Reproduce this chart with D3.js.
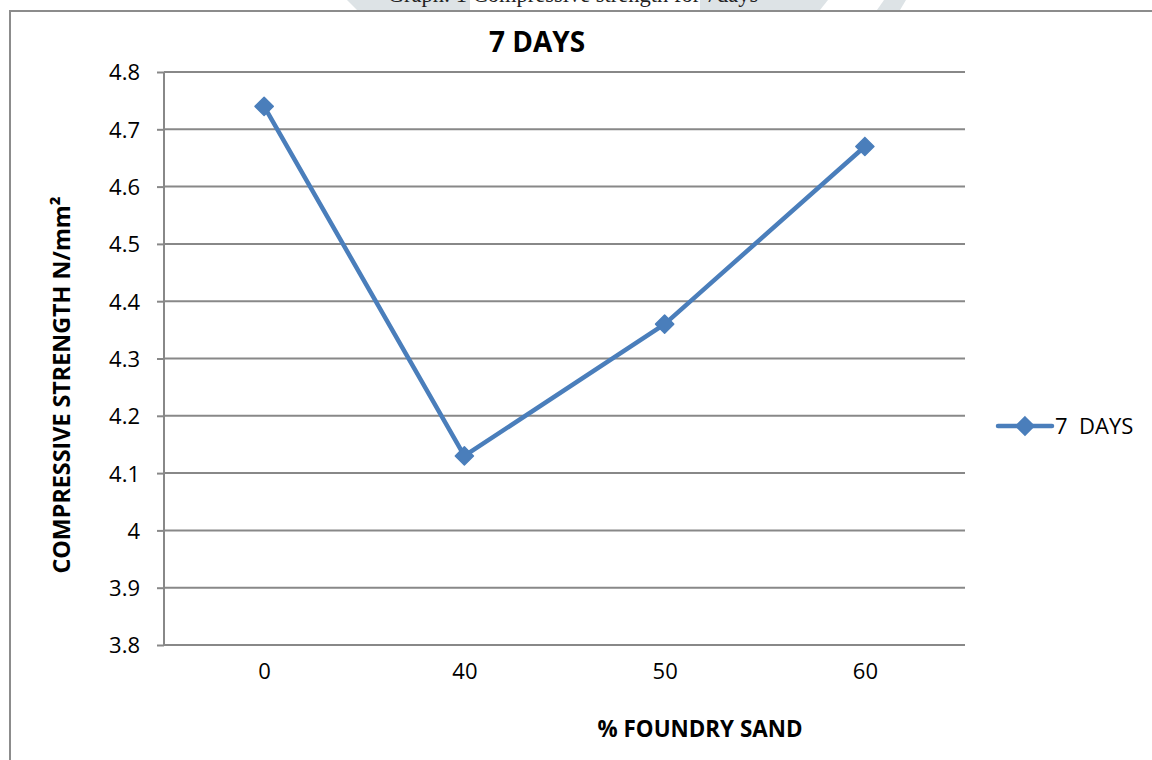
<!DOCTYPE html>
<html>
<head>
<meta charset="utf-8">
<script src="https://cdn.jsdelivr.net/npm/d3@7"></script>
<style>
  html, body { margin: 0; padding: 0; background: #fff; }
  svg { display: block; }
</style>
</head>
<body>
<svg id="chart" width="1152" height="760"></svg>
<script>
// Compressive strength after 7 days of curing, by % foundry sand replacement
const categories = ["0", "40", "50", "60"];
const strength7Days = [4.74, 4.13, 4.36, 4.67];
const yTicks = [3.8, 3.9, 4, 4.1, 4.2, 4.3, 4.4, 4.5, 4.6, 4.7, 4.8];
const seriesName = "7  DAYS";

const svg = d3.select("#chart");
const W = 1152, H = 760;
const blue = "#4a7ebb";
const gridColor = "#888888";
const labelFont = "'Open Sans', 'Liberation Sans', sans-serif";

// Faint page background shapes above the frame
svg.append("g")
  .attr("fill", "#dde3e6")
  .selectAll("path")
  .data([
    "M347,0 L470,0 L470,10 L357,10 Z",
    "M700,0 L828,0 L820,10 L700,10 Z",
    "M884,0 L906,0 L900,10 L877,10 Z"
  ])
  .join("path")
  .attr("d", d => d);

// Page caption (partly above the visible area)
svg.append("text")
  .attr("x", 573).attr("y", 2)
  .attr("text-anchor", "middle")
  .attr("font-family", "'Liberation Serif', 'Times New Roman', serif")
  .attr("font-size", 22.5)
  .attr("fill", "#222")
  .text("Graph: 1 Compressive strength for 7days");

// Chart frame
svg.append("path")
  .attr("d", `M10,${H + 5} V11 H${W + 5}`)
  .attr("fill", "none")
  .attr("stroke", "#8c8c8c")
  .attr("stroke-width", 2);

const plot = { left: 164, right: 965, top: 72, bottom: 645 };

const x = d3.scalePoint()
  .domain(categories)
  .range([plot.left, plot.right])
  .padding(0.5);

const y = d3.scaleLinear()
  .domain([3.8, 4.8])
  .range([plot.bottom, plot.top]);

// Horizontal gridlines
svg.append("g")
  .selectAll("line")
  .data(yTicks)
  .join("line")
  .attr("x1", plot.left).attr("x2", plot.right)
  .attr("y1", d => y(d)).attr("y2", d => y(d))
  .attr("stroke", gridColor)
  .attr("stroke-width", 2);

// Y axis with tick stubs and labels
const yAxis = d3.axisLeft(y)
  .tickValues(yTicks)
  .tickSize(7)
  .tickFormat(d3.format("~g"));

const gy = svg.append("g")
  .attr("transform", `translate(${plot.left},0)`)
  .call(yAxis);
gy.select(".domain").attr("stroke", gridColor).attr("stroke-width", 2)
  .attr("d", `M0,${plot.top}V${plot.bottom}`);
gy.selectAll(".tick line").attr("stroke", gridColor).attr("stroke-width", 2);
gy.selectAll(".tick text")
  .attr("x", -24)
  .attr("dy", "0.36em")
  .attr("font-family", labelFont)
  .attr("font-size", 22)
  .attr("fill", "#000");

// X axis labels
const xAxis = d3.axisBottom(x).tickSize(0);
const gx = svg.append("g")
  .attr("transform", `translate(0,${plot.bottom})`)
  .call(xAxis);
gx.select(".domain").remove();
gx.selectAll(".tick text")
  .attr("y", 0)
  .attr("dy", "1.55em")
  .attr("font-family", labelFont)
  .attr("font-size", 22)
  .attr("fill", "#000");

// Titles
svg.append("text")
  .attr("x", 537).attr("y", 52)
  .attr("text-anchor", "middle")
  .attr("font-family", labelFont)
  .attr("font-weight", "bold")
  .attr("font-size", 28)
  .attr("fill", "#000")
  .text("7 DAYS");

svg.append("text")
  .attr("x", 700).attr("y", 737)
  .attr("text-anchor", "middle")
  .attr("font-family", labelFont)
  .attr("font-weight", "bold")
  .attr("font-size", 22.4)
  .attr("fill", "#000")
  .text("% FOUNDRY SAND");

svg.append("text")
  .attr("transform", `translate(70,385) rotate(-90)`)
  .attr("text-anchor", "middle")
  .attr("font-family", labelFont)
  .attr("font-weight", "bold")
  .attr("font-size", 23.3)
  .attr("fill", "#000")
  .text("COMPRESSIVE STRENGTH N/mm²");

// Data line
const pts = categories.map((c, i) => ({ c, v: strength7Days[i] }));
svg.append("path")
  .datum(pts)
  .attr("fill", "none")
  .attr("stroke", blue)
  .attr("stroke-width", 4.5)
  .attr("stroke-linejoin", "round")
  .attr("stroke-linecap", "round")
  .attr("d", d3.line().x(d => x(d.c)).y(d => y(d.v)));

const diamond = d3.symbol().type(d3.symbolDiamond2).size(210);
svg.append("g")
  .selectAll("path")
  .data(pts)
  .join("path")
  .attr("transform", d => `translate(${x(d.c)},${y(d.v)})`)
  .attr("d", diamond)
  .attr("fill", blue)
  .attr("stroke", blue)
  .attr("stroke-width", 1.5)
  .attr("stroke-linejoin", "round");

// Legend
const lg = svg.append("g").attr("transform", "translate(998,426)");
lg.append("line")
  .attr("x1", 0).attr("x2", 54)
  .attr("y1", 0).attr("y2", 0)
  .attr("stroke", blue)
  .attr("stroke-width", 4.5)
  .attr("stroke-linecap", "round");
lg.append("path")
  .attr("transform", "translate(27,0)")
  .attr("d", diamond)
  .attr("fill", blue)
  .attr("stroke", blue)
  .attr("stroke-width", 1.5);
lg.append("text")
  .attr("x", 57).attr("y", 8)
  .attr("font-family", labelFont)
  .attr("font-size", 22)
  .attr("fill", "#000")
  .attr("xml:space", "preserve")
  .style("white-space", "pre")
  .text(seriesName);
</script>
</body>
</html>
